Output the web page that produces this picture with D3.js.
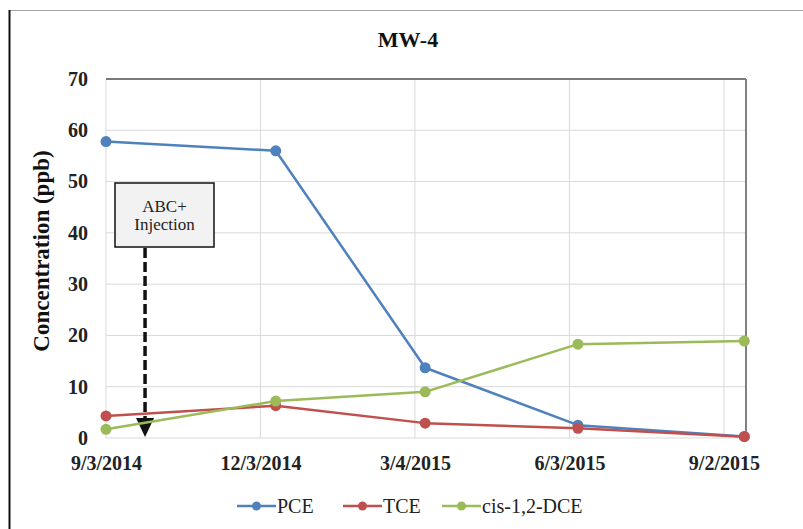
<!DOCTYPE html>
<html>
<head>
<meta charset="utf-8">
<script src="https://cdn.jsdelivr.net/npm/d3@7"></script>
<style>
html,body{margin:0;padding:0;background:#fff;}
svg{display:block;}
svg text{font-family:"Liberation Serif","Times New Roman",serif !important;}
</style>
</head>
<body>
<svg id="chart" width="803" height="529"></svg>
<script>
// ---- data ----
const sampleDates = ["2014-09-03","2014-12-12","2015-03-10","2015-06-08","2015-09-14"];
const pce = [57.8, 56.0, 13.7, 2.5, 0.3];
const tce = [4.3, 6.3, 2.9, 1.9, 0.26];
const dce = [1.7, 7.2, 9.0, 18.3, 18.9];
const seriesNames = ["PCE","TCE","cis-1,2-DCE"];
const tickDates = ["2014-09-03","2014-12-03","2015-03-04","2015-06-03","2015-09-02"];
const tickLabels = ["9/3/2014","12/3/2014","3/4/2015","6/3/2015","9/2/2015"];
const axisRange = ["2014-09-03","2015-09-15"];
const yTicks = [0,10,20,30,40,50,60,70];
const injectionDate = "2014-09-26";
const injectionLabel = ["ABC+","Injection"];
const titleText = "MW-4";
const yTitle = "Concentration (ppb)";

const colors = ["#4F81BD","#C0504D","#9BBB59"];
const parse = d3.utcParse("%Y-%m-%d");

const svg = d3.select("#chart");
const L = 106, R = 746, T = 79, B = 438;

const x = d3.scaleUtc().domain(axisRange.map(parse)).range([L, R]);
const y = d3.scaleLinear().domain([0, 70]).range([B, T]);

// outer frame
svg.append("line").attr("x1",9).attr("x2",803).attr("y1",10.5).attr("y2",10.5)
  .attr("stroke","#a6a6a6").attr("stroke-width",1.2);
svg.append("line").attr("x1",9.5).attr("x2",9.5).attr("y1",10).attr("y2",529)
  .attr("stroke","#111").attr("stroke-width",2);

// title
svg.append("text").attr("x",408).attr("y",47).attr("text-anchor","middle")
  .attr("font-weight","bold").attr("font-size",22).attr("fill","#111").text(titleText);

// gridlines
const grid = svg.append("g");
grid.selectAll("line.h").data(yTicks).join("line")
  .attr("x1",L).attr("x2",R).attr("y1",d=>y(d)).attr("y2",d=>y(d))
  .attr("stroke","#d9d9d9").attr("stroke-width",1);
grid.selectAll("line.v").data(tickDates).join("line")
  .attr("x1",d=>x(parse(d))).attr("x2",d=>x(parse(d))).attr("y1",T).attr("y2",B)
  .attr("stroke","#d9d9d9").attr("stroke-width",1);

// plot border top & right
svg.append("line").attr("x1",L).attr("x2",R).attr("y1",T).attr("y2",T)
  .attr("stroke","#555").attr("stroke-width",1.5);
svg.append("line").attr("x1",R).attr("x2",R).attr("y1",T).attr("y2",B)
  .attr("stroke","#808080").attr("stroke-width",2);

// y axis
const yAxis = d3.axisLeft(y).tickValues(yTicks).tickSize(0).tickPadding(18);
const gy = svg.append("g").attr("transform",`translate(${L},0)`).call(yAxis);
gy.select(".domain").remove();
gy.selectAll("text").attr("font-weight","bold").attr("font-size",20).attr("fill","#222");

// x axis
const xAxis = d3.axisBottom(x).tickValues(tickDates.map(parse))
  .tickFormat((d,i)=>tickLabels[i]).tickSize(0).tickPadding(18);
const gx = svg.append("g").attr("transform",`translate(0,${B})`).call(xAxis);
gx.select(".domain").remove();
gx.selectAll("text").attr("font-weight","bold").attr("font-size",20).attr("fill","#222");

// y title
svg.append("text").attr("transform","translate(49,251) rotate(-90)")
  .attr("text-anchor","middle").attr("font-weight","bold").attr("font-size",23)
  .attr("fill","#111").text(yTitle);

// annotation
const ix = x(parse(injectionDate));
svg.append("rect").attr("x",115).attr("y",183).attr("width",99).attr("height",64)
  .attr("fill","#f2f2f2").attr("stroke","#111").attr("stroke-width",1.5);
svg.append("text").attr("x",164.5).attr("y",212).attr("text-anchor","middle")
  .attr("font-size",17).attr("fill","#222").text(injectionLabel[0]);
svg.append("text").attr("x",164.5).attr("y",230).attr("text-anchor","middle")
  .attr("font-size",17).attr("fill","#222").text(injectionLabel[1]);
svg.append("line").attr("x1",ix).attr("x2",ix).attr("y1",248).attr("y2",418)
  .attr("stroke","#111").attr("stroke-width",3.5).attr("stroke-dasharray","10,4");
svg.append("path").attr("d",`M${ix-9},418 L${ix+9},418 L${ix},437 Z`).attr("fill","#111");

// series
const allSeries = [pce, tce, dce];
const line = d3.line().x((d,i)=>x(parse(sampleDates[i]))).y(d=>y(d));
allSeries.forEach((s,k)=>{
  svg.append("path").datum(s).attr("d",line).attr("fill","none")
    .attr("stroke",colors[k]).attr("stroke-width",2.5).attr("stroke-linejoin","round");
  svg.append("g").selectAll("circle").data(s).join("circle")
    .attr("cx",(d,i)=>x(parse(sampleDates[i]))).attr("cy",d=>y(d)).attr("r",5.5)
    .attr("fill",colors[k]);
});

// legend
const legX = [237, 343, 442];
const lg = svg.append("g");
seriesNames.forEach((n,k)=>{
  const g = lg.append("g").attr("transform",`translate(${legX[k]},506)`);
  g.append("line").attr("x1",0).attr("x2",39).attr("y1",0).attr("y2",0)
    .attr("stroke",colors[k]).attr("stroke-width",2.5);
  g.append("circle").attr("cx",19.5).attr("cy",0).attr("r",4.5).attr("fill",colors[k]);
  g.append("text").attr("x",40).attr("y",6.5).attr("font-size",20).attr("fill","#222").text(n);
});
</script>
</body>
</html>
